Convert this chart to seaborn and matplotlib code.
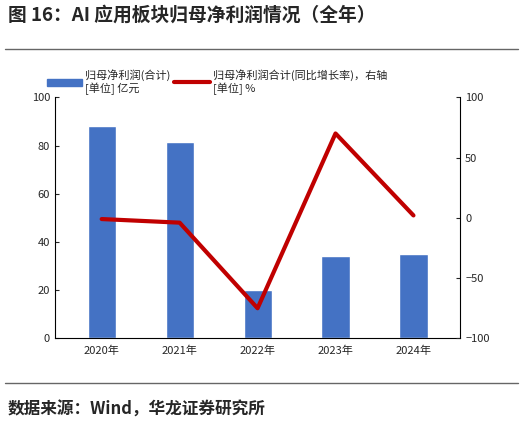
import pandas as pd
import matplotlib.pyplot as plt
import seaborn as sns
from matplotlib.lines import Line2D
from matplotlib.patches import Patch

years = ['2020年', '2021年', '2022年', '2023年', '2024年']
profit = [88, 81.5, 20, 34, 35]
growth = [-1, -4, -75, 70, 2]

sns.set_style('white')
plt.rcParams['font.family'] = ['Noto Sans CJK SC', 'DejaVu Sans']

fig = plt.figure(figsize=(5.23, 4.23), dpi=100)
ax = fig.add_axes([0.105, 0.2, 0.775, 0.57])
df = pd.DataFrame({'year': years, 'profit': profit, 'growth': growth})
sns.barplot(data=df, x='year', y='profit', color='#4472C4', saturation=1, width=0.36, ax=ax)
ax.set_ylim(0, 100)
ax.set_yticks(range(0, 101, 20))
ax.set_xlabel('')
ax.set_ylabel('')
ax2 = ax.twinx()
sns.lineplot(data=df, x='year', y='growth', color='#C00000', linewidth=3, ax=ax2)
ax2.set_ylim(-100, 100)
ax2.set_yticks([-100, -50, 0, 50, 100])
ax2.set_ylabel('')
for a in (ax, ax2):
    for s in a.spines.values():
        s.set_visible(False)
    a.tick_params(labelsize=8, length=3, direction='in')
ax.spines['left'].set_visible(True)
ax.spines['bottom'].set_visible(True)
ax2.spines['right'].set_visible(True)
for s in ('left', 'bottom'):
    ax.spines[s].set_color('black')
    ax.spines[s].set_linewidth(0.8)
ax2.spines['right'].set_color('black')
ax2.spines['right'].set_linewidth(0.8)
ax.tick_params(axis='x', length=0, pad=5)
ax.tick_params(axis='y', left=True)
ax2.tick_params(axis='y', right=True)
ax.set_xlim(-0.6, 4.6)

fig.text(0.015, 0.95, '图 16：AI 应用板块归母净利润情况（全年）', fontsize=13.5, fontweight='bold')
fig.add_artist(Line2D([0.01, 0.99], [0.885, 0.885], color='#666666', lw=1))
fig.add_artist(Line2D([0.01, 0.99], [0.095, 0.095], color='#666666', lw=1))
fig.text(0.015, 0.02, '数据来源：Wind，华龙证券研究所', fontsize=12, fontweight='bold')

fig.legend(handles=[Patch(color='#4472C4'), Line2D([], [], color='#C00000', lw=3)],
           labels=['归母净利润(合计)\n[单位] 亿元', '归母净利润合计(同比增长率)，右轴\n[单位] %'],
           loc='upper left', bbox_to_anchor=(0.07, 0.86), ncol=2, frameon=False,
           fontsize=8, handlelength=3.2, columnspacing=0.3, handletextpad=0.3)
fig.savefig('out.png', dpi=100)
